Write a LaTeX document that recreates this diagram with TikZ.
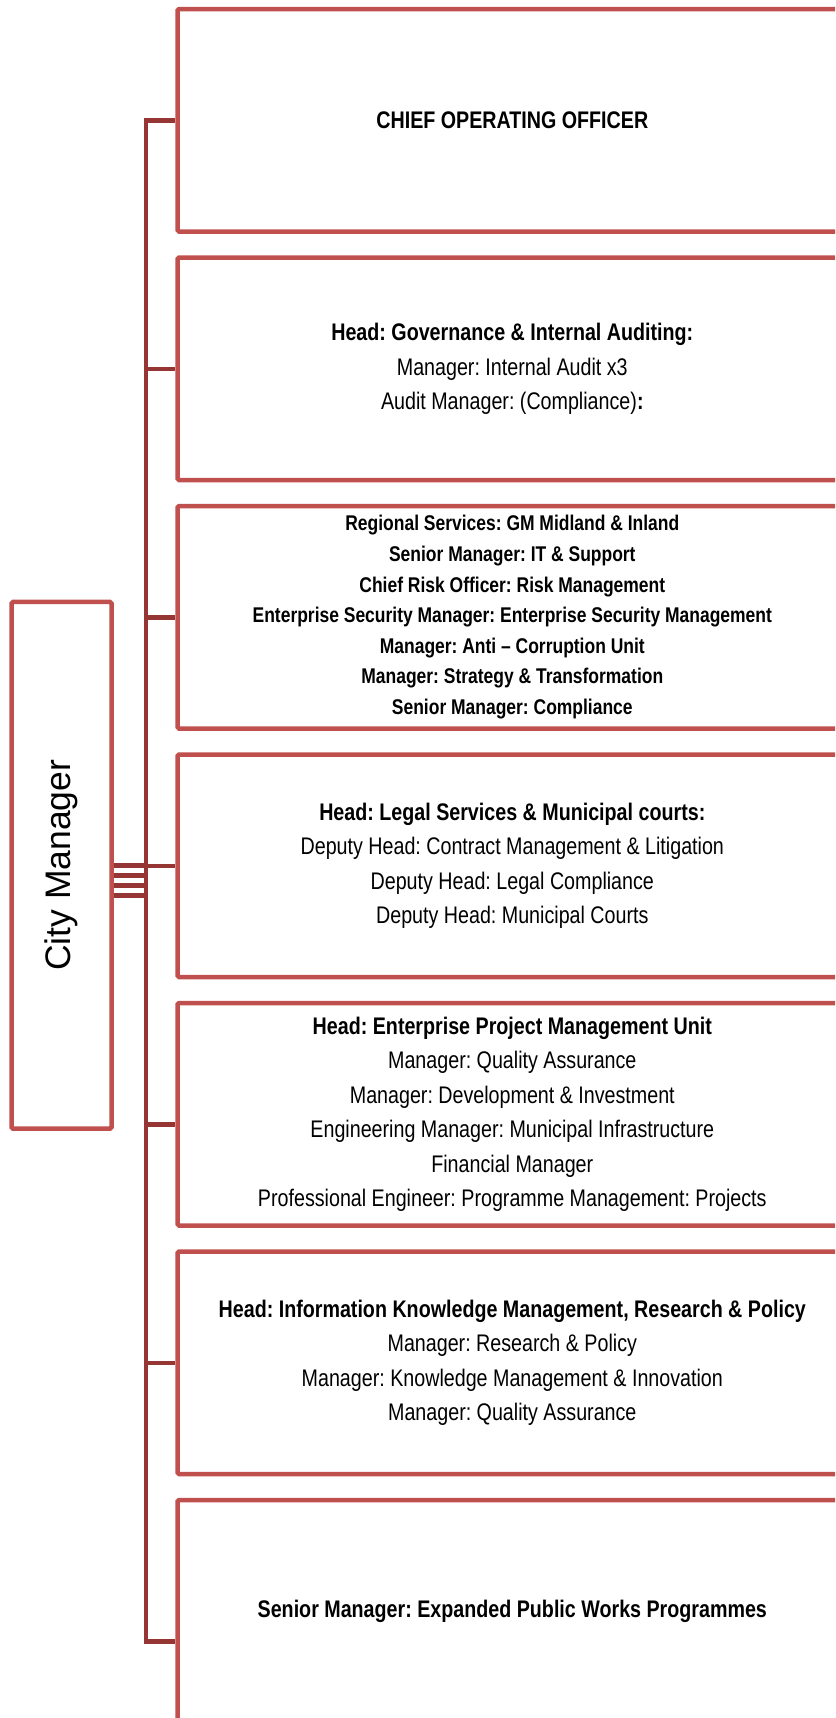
\documentclass[tikz,border=0pt]{standalone}
\usepackage{fontspec}
\usepackage{graphicx}
\setmainfont{Liberation Sans}
\newfontfamily\narrowfont{Liberation Sans}[FakeStretch=0.82,Ligatures=TeX]
\usetikzlibrary{positioning}
\definecolor{boxred}{RGB}{192,80,77}
\definecolor{linkred}{RGB}{150,54,52}
\frenchspacing

\begin{document}
\begin{tikzpicture}[x=1pt,y=-1pt,
  orgbox/.style={rectangle, draw=boxred, line width=4.5pt, rounded corners=1.5pt, minimum width=669.5pt, minimum height=222.5pt, inner sep=0pt, align=center, font=\narrowfont\fontsize{24}{34.4}\selectfont},
  densebox/.style={orgbox, font=\narrowfont\bfseries\fontsize{21.3}{30.6}\selectfont},
  citybox/.style={rectangle, draw=boxred, line width=4.5pt, rounded corners=1.5pt, minimum width=100pt, minimum height=526.7pt, inner sep=0pt, font=\fontsize{35.5}{40}\selectfont},
  link/.style={draw=linkred, line width=4.5pt}
]
\useasboundingbox (0,0) rectangle (835,1718);
\clip (0,0) rectangle (835,1718);

\node[citybox] (city) at (61.5,865.3) {\rotatebox{90}{City Manager}};

\node[orgbox] (coo)   at (512.3,120.3)  {\textbf{CHIEF OPERATING OFFICER}};
\node[orgbox] (audit) at (512.3,368.8)  {\textbf{Head: Governance \& Internal Auditing:}\\ Manager: Internal Audit x3\\ Audit Manager: (Compliance)\textbf{:}};
\node[densebox] (regional) at (512.3,617.3) {Regional Services: GM Midland \& Inland\\ Senior Manager: IT \& Support\\ Chief Risk Officer: Risk Management\\ Enterprise Security Manager: Enterprise Security Management\\ Manager: Anti – Corruption Unit\\ Manager: Strategy \& Transformation\\ Senior Manager: Compliance};
\node[orgbox] (legal) at (512.3,865.8)  {\textbf{Head: Legal Services \& Municipal courts:}\\ Deputy Head: Contract Management \& Litigation\\ Deputy Head: Legal Compliance\\ Deputy Head: Municipal Courts};
\node[orgbox] (epmu)  at (512.3,1114.3) {\textbf{Head: Enterprise Project Management Unit}\\ Manager: Quality Assurance\\ Manager: Development \& Investment\\ Engineering Manager: Municipal Infrastructure\\ Financial Manager\\ Professional Engineer: Programme Management: Projects};
\node[orgbox] (ikm)   at (512.3,1362.8) {\textbf{Head: Information Knowledge Management, Research \& Policy}\\ Manager: Research \& Policy\\ Manager: Knowledge Management \& Innovation\\ Manager: Quality Assurance};
\node[orgbox] (epwp)  at (512.3,1611.3) {\textbf{Senior Manager: Expanded Public Works Programmes}};

% bus
\coordinate (b1) at (146,120.3);
\coordinate (b2) at (146,368.8);
\coordinate (b3) at (146,617.3);
\coordinate (b4) at (146,865.8);
\coordinate (b5) at (146,1124.5);
\coordinate (b6) at (146,1362.8);
\coordinate (b7) at (146,1641.5);

\draw[link] (coo.west) -- (b1) -- (b7) -- (b7 -| epwp.west);
\draw[link] (b2) -- (audit.west);
\draw[link] (b3) -- (regional.west);
\draw[link] (b4) -- (legal.west);
\draw[link] (b5) -- (b5 -| epmu.west);
\draw[link] (b6) -- (ikm.west);

\foreach \dy in {0,10,20,30}
  \draw[link] ([yshift=-\dy pt]city.east) -- ++(34.5,0);
\end{tikzpicture}
\end{document}
